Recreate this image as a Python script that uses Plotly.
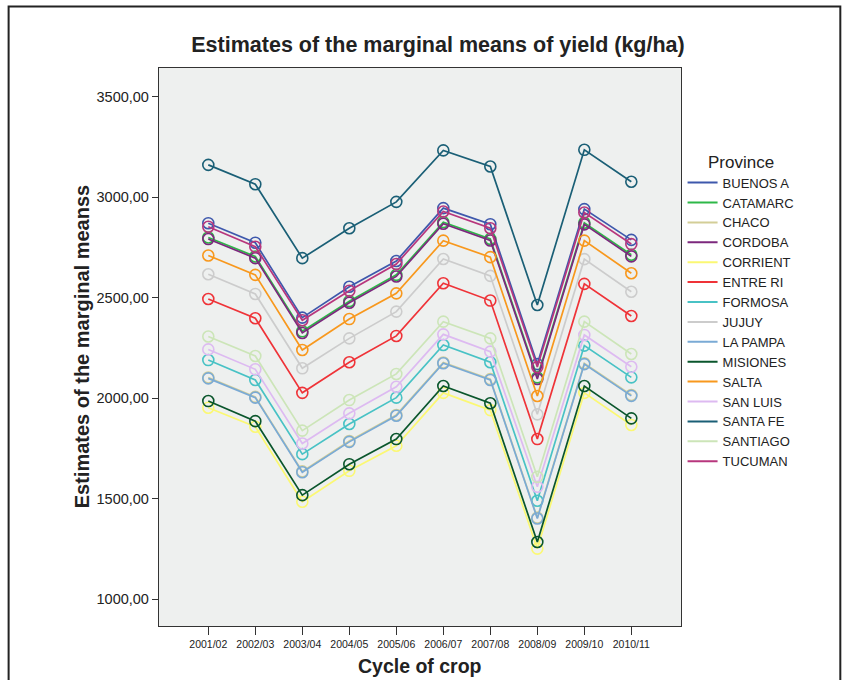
import plotly.graph_objects as go

cycles = ["2001/02", "2002/03", "2003/04", "2004/05", "2005/06",
          "2006/07", "2007/08", "2008/09", "2009/10", "2010/11"]

provinces = ["BUENOS A", "CATAMARC", "CHACO", "CORDOBA", "CORRIENT",
             "ENTRE RI", "FORMOSA", "JUJUY", "LA PAMPA", "MISIONES",
             "SALTA", "SAN LUIS", "SANTA FE", "SANTIAGO", "TUCUMAN"]

buenos_a = [2871, 2774, 2401, 2555, 2683, 2946, 2866, 2170, 2941, 2788]
catamarc = [2800, 2705, 2333, 2483, 2614, 2876, 2793, 2104, 2873, 2714]
chaco    = [2103, 2007, 1636, 1787, 1917, 2178, 2095, 1406, 2174, 2016]
cordoba  = [2792, 2697, 2325, 2475, 2606, 2868, 2785, 2096, 2865, 2706]
corrient = [1953, 1858, 1485, 1639, 1764, 2027, 1941, 1252, 2027, 1867]
entre_ri = [2494, 2398, 2027, 2179, 2310, 2572, 2486, 1797, 2569, 2409]
formosa  = [2190, 2091, 1722, 1872, 2003, 2265, 2179, 1490, 2262, 2104]
jujuy    = [2617, 2519, 2149, 2298, 2431, 2693, 2609, 1920, 2692, 2530]
la_pampa = [2099, 2003, 1632, 1783, 1913, 2174, 2091, 1402, 2170, 2012]
misiones = [1986, 1886, 1518, 1672, 1797, 2061, 1975, 1285, 2061, 1900]
salta    = [2710, 2614, 2240, 2394, 2522, 2784, 2702, 2011, 2784, 2622]
san_luis = [2243, 2144, 1775, 1925, 2057, 2318, 2232, 1560, 2315, 2157]
santa_fe = [3161, 3065, 2697, 2846, 2977, 3233, 3153, 2464, 3236, 3077]
santiago = [2307, 2210, 1839, 1991, 2121, 2381, 2298, 1609, 2381, 2220]
tucuman  = [2853, 2754, 2388, 2535, 2668, 2929, 2846, 2155, 2924, 2767]

series = [buenos_a, catamarc, chaco, cordoba, corrient, entre_ri, formosa,
          jujuy, la_pampa, misiones, salta, san_luis, santa_fe, santiago, tucuman]

colors = ["#3E58AC", "#2EB848", "#D3CE97", "#7C287D", "#FBF873",
          "#EF3338", "#48C2C5", "#CCCCCC", "#7AAAD5", "#0A562C",
          "#F8981D", "#DDBAF1", "#1A5F76", "#CCE5B8", "#B7367D"]

y_ticks = [1000, 1500, 2000, 2500, 3000, 3500]
y_tick_text = ["1000,00", "1500,00", "2000,00", "2500,00", "3000,00", "3500,00"]

FONT = "Liberation Sans, Arial, sans-serif"

W, H = 846, 680

fig = go.Figure()
for name, vals, col in zip(provinces, series, colors):
    fig.add_trace(go.Scatter(
        x=cycles, y=vals, mode="lines+markers", name=name,
        line=dict(color=col, width=1.7),
        marker=dict(symbol="circle-open", size=11, color=col,
                    line=dict(width=1.6, color=col)),
        showlegend=False,
    ))
# legend entries (line only, as in the reference)
for name, col in zip(provinces, colors):
    fig.add_trace(go.Scatter(
        x=[None], y=[None], mode="lines", name=name,
        line=dict(color=col, width=2), showlegend=True,
    ))

fig.update_layout(
    width=W, height=H,
    margin=dict(l=158.7, r=165.3, t=68.3, b=54.3, pad=0),
    paper_bgcolor="white",
    plot_bgcolor="#EEF0EF",
    font=dict(family=FONT, color="#222"),
    title=dict(text="<b>Estimates of the marginal means of yield (kg/ha)</b>",
               x=438 / W, xref="container", xanchor="center",
               y=1 - 44 / H, yref="container", yanchor="middle",
               font=dict(size=21.5, color="#222", family=FONT)),
    legend=dict(
        x=1.003, xanchor="left", y=0.861, yanchor="top",
        title=dict(text="Province", side="top center",
                   font=dict(size=17, color="#222", family=FONT)),
        font=dict(size=13, color="#222", family=FONT),
        bgcolor="rgba(0,0,0,0)", tracegroupgap=0,
    ),
    showlegend=True,
)

fig.update_xaxes(
    type="category", range=[-1.049, 10.057],
    showgrid=False, zeroline=False,
    showline=True, mirror=True, linecolor="#333", linewidth=1.3,
    ticks="outside", ticklen=8, tickwidth=1.3, tickcolor="#333",
    tickfont=dict(size=10.5, color="#222", family=FONT),
)
fig.update_yaxes(
    range=[867, 3643],
    tickvals=y_ticks, ticktext=y_tick_text,
    showgrid=False, zeroline=False,
    showline=True, mirror=True, linecolor="#333", linewidth=1.3,
    ticks="outside", ticklen=6, tickwidth=1.3, tickcolor="#333",
    tickfont=dict(size=14.5, color="#222", family=FONT),
)

fig.add_annotation(text="<b>Estimates of the marginal meanss</b>",
                   textangle=-90, x=-0.147, y=0.5, xref="paper", yref="paper",
                   xanchor="center", yanchor="middle", showarrow=False,
                   font=dict(size=20, color="#222", family=FONT))
fig.add_annotation(text="<b>Cycle of crop</b>",
                   x=0.5, y=-0.0723, xref="paper", yref="paper",
                   xanchor="center", yanchor="middle", showarrow=False,
                   font=dict(size=19.5, color="#222", family=FONT))

# outer frame of the figure
fig.add_shape(type="rect", xref="paper", yref="paper",
              x0=-0.2881, x1=1.3052, y0=-0.3, y1=1.110,
              line=dict(color="#222", width=2), fillcolor="rgba(0,0,0,0)",
              layer="below")

fig.write_html(
    "out.html",
    config={"displayModeBar": False},
    post_script="document.body.style.margin='0';document.body.style.overflow='hidden';",
)
